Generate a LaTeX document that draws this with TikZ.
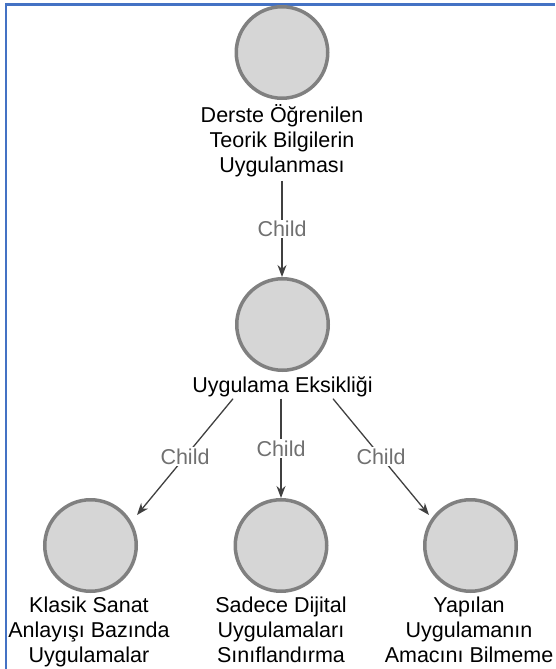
\documentclass[tikz,border=0pt]{standalone}
\usepackage{fontspec}
\setmainfont{Liberation Sans}
\usetikzlibrary{arrows.meta,calc}
\definecolor{frameblue}{RGB}{68,114,196}
\definecolor{circfill}{RGB}{214,214,214}
\definecolor{circline}{RGB}{128,128,128}
\definecolor{edgecol}{RGB}{64,64,64}
\definecolor{relcol}{RGB}{112,112,112}
\begin{document}
\begin{tikzpicture}[x=1pt,y=-1pt,
  concept/.style={circle,draw=circline,fill=circfill,line width=3.5pt,
    minimum size=91.5pt,inner sep=0pt},
  caption/.style={align=center,inner sep=0pt,anchor=north,
    font=\fontsize{21.5}{25}\selectfont,text=black},
  link/.style={draw=edgecol,line width=1.3pt,
    -{Stealth[length=12pt,width=9pt]}},
  rel/.style={fill=white,inner sep=1.5pt,text=relcol,
    font=\fontsize{21.5}{25}\selectfont}]
\useasboundingbox (0,0) rectangle (555,669);

% frame
\draw[frameblue,line width=2.2pt] (6,669) -- (6,4.5) -- (555,4.5);

% concepts
\node[concept] (t) at (282,52.5) {};
\node[concept] (m) at (282.5,324.5) {};
\node[concept] (l) at (90.5,545.5) {};
\node[concept] (c) at (281,545.5) {};
\node[concept] (r) at (470.5,545.5) {};

% captions
\node[caption] (tl) at (282,104) {Derste Öğrenilen\\Teorik Bilgilerin\\Uygulanması};
\node[caption] (ml) at (282.5,376) {Uygulama Eksikliği};
\node[caption] (ll) at (89,597) {Klasik Sanat\\Anlayışı Bazında\\Uygulamalar};
\node[caption] (cl) at (281,597) {Sadece Dijital\\Uygulamaları\\Sınıflandırma};
\node[caption] (rl) at (469,597) {Yapılan\\Uygulamanın\\Amacını Bilmeme};

% relations
\draw[link] ($(tl.south)+(0,4)$) -- node[rel] (e1) {Child} (t |- m.north);
\draw[link] ($(ml.south)+(-1.5,2)$) -- node[rel] (e3) {Child} (c.north);
\draw[link] ($(ml.south)+(-49.5,2)$) -- node[rel] (e2) {Child}
  ($(l.center)+(46.5,-30.5)$);
\draw[link] ($(ml.south)+(50.5,2)$) -- node[rel] (e4) {Child}
  ($(r.center)+(-41.5,-30.5)$);
\end{tikzpicture}
\end{document}
